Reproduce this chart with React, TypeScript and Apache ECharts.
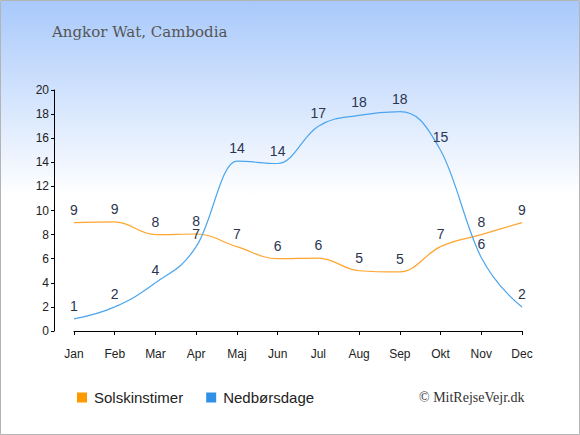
import React, { useEffect, useRef } from "react";
import * as echarts from "echarts";

const months = ["Jan", "Feb", "Mar", "Apr", "Maj", "Jun", "Jul", "Aug", "Sep", "Okt", "Nov", "Dec"];
const sunshine = [9, 9.05, 8, 8.05, 7, 6, 6.05, 5, 4.9, 7, 8, 9];
const rainDays = [1, 2, 4, 7, 14.1, 13.9, 17, 17.9, 18.2, 15, 6.1, 2];
const yTicksMax = 20;
const titleText = "Angkor Wat, Cambodia";
const creditText = "© MitRejseVejr.dk";

const SUN_COLOR = "#ff9900";
const SUN_LINE = "#ffa52e";
const RAIN_COLOR = "#2f90e6";
const RAIN_LINE = "#4ba5ee";

type P = number[];

function controlPoints(pts: P[], k: number) {
  const [x, y] = pts[k];
  if (k === 0 || k === pts.length - 1) return { lx: x, ly: y, rx: x, ry: y };
  const smoothing = 1.5;
  const denom = smoothing + 1;
  const [px, py] = pts[k - 1];
  const [nx, ny] = pts[k + 1];
  const lx = (smoothing * x + px) / denom;
  let ly = (smoothing * y + py) / denom;
  const rx = (smoothing * x + nx) / denom;
  let ry = (smoothing * y + ny) / denom;
  let corr = 0;
  if (rx !== lx) corr = ((ry - ly) * (rx - x)) / (rx - lx) + y - ry;
  ly += corr;
  ry += corr;
  if (ly > py && ly > y) {
    ly = Math.max(py, y);
    ry = 2 * y - ly;
  } else if (ly < py && ly < y) {
    ly = Math.min(py, y);
    ry = 2 * y - ly;
  }
  if (ry > ny && ry > y) {
    ry = Math.max(ny, y);
    ly = 2 * y - ry;
  } else if (ry < ny && ry < y) {
    ry = Math.min(ny, y);
    ly = 2 * y - ry;
  }
  return { lx, ly, rx, ry };
}

function splineSeries(name: string, values: number[], color: string) {
  return {
    name: name + " spline",
    type: "custom",
    data: values.map((v, i) => [i, v]),
    encode: { x: 0, y: 1 },
    silent: true,
    renderItem: (params: any, api: any) => {
      const i = params.dataIndex;
      if (i >= values.length - 1) return null;
      const pts = values.map((v, k) => api.coord([k, v]));
      const a = controlPoints(pts, i);
      const b = controlPoints(pts, i + 1);
      return {
        type: "bezierCurve",
        shape: {
          x1: pts[i][0],
          y1: pts[i][1],
          cpx1: a.rx,
          cpy1: a.ry,
          cpx2: b.lx,
          cpy2: b.ly,
          x2: pts[i + 1][0],
          y2: pts[i + 1][1],
        },
        style: { stroke: color, lineWidth: 1.2, fill: "none" },
      };
    },
  };
}

export default function App() {
  const ref = useRef<HTMLDivElement>(null);
  useEffect(() => {
    if (!ref.current) return;
    const chart = echarts.init(ref.current, undefined, { renderer: "svg" });
    const labelStyle = {
      show: true,
      position: "top" as const,
      distance: 6,
      color: "#2b3550",
      fontSize: 14,
      fontFamily: "Liberation Sans, Arial, sans-serif",
      formatter: (p: any) => String(Math.round(p.value)),
    };
    chart.setOption({
      animation: false,
      graphic: [
        {
          type: "rect",
          z: -10,
          silent: true,
          shape: { x: 0.5, y: 0.5, width: 579, height: 434 },
          style: {
            fill: new echarts.graphic.LinearGradient(0, 0, 0, 1, [
              { offset: 0, color: "#a8c9fb" },
              { offset: 0.45, color: "#ffffff" },
              { offset: 1, color: "#ffffff" },
            ]),
            stroke: "#b4b4b4",
            lineWidth: 1,
          },
        },
        {
          type: "text",
          left: 52,
          top: 24,
          style: {
            text: titleText,
            fill: "#555555",
            font: "15px 'DejaVu Serif', Georgia, serif",
          },
        },
        {
          type: "text",
          left: 419,
          top: 390,
          style: {
            text: creditText,
            fill: "#333333",
            font: "14px 'Liberation Serif', 'Times New Roman', serif",
          },
        },
      ],
      legend: {
        left: 77,
        top: 390,
        padding: 0,
        icon: "rect",
        itemWidth: 10,
        itemHeight: 10,
        itemGap: 23,
        textStyle: { fontSize: 15, color: "#222", fontFamily: "Liberation Sans, Arial, sans-serif", padding: [0, 0, 0, 2] },
        data: [
          { name: "Solskinstimer", itemStyle: { color: SUN_COLOR } },
          { name: "Nedbørsdage", itemStyle: { color: RAIN_COLOR } },
        ],
      },
      grid: { left: 74, right: 58, top: 90, bottom: 104, containLabel: false },
      xAxis: {
        type: "category",
        data: months,
        boundaryGap: false,
        offset: 10,
        axisLine: { lineStyle: { color: "#000", width: 1 } },
        axisTick: { show: true, length: 4, lineStyle: { color: "#000" } },
        axisLabel: { color: "#222", fontSize: 12, fontFamily: "Liberation Sans, Arial, sans-serif", margin: 7 },
      },
      yAxis: {
        type: "value",
        min: 0,
        max: yTicksMax,
        interval: 2,
        offset: 20,
        axisLine: { show: true, lineStyle: { color: "#000", width: 1 } },
        axisTick: { show: true, length: 3, lineStyle: { color: "#000" } },
        splitLine: { show: false },
        axisLabel: { color: "#222", fontSize: 12, fontFamily: "Liberation Sans, Arial, sans-serif", margin: 5 },
      },
      series: [
        splineSeries("Solskinstimer", sunshine, SUN_LINE),
        splineSeries("Nedbørsdage", rainDays, RAIN_LINE),
        {
          name: "Solskinstimer",
          type: "line",
          data: sunshine,
          symbol: "circle",
          symbolSize: 0,
          showSymbol: true,
          itemStyle: { color: SUN_COLOR },
          lineStyle: { opacity: 0 },
          label: labelStyle,
        },
        {
          name: "Nedbørsdage",
          type: "line",
          data: rainDays,
          symbol: "circle",
          symbolSize: 0,
          showSymbol: true,
          itemStyle: { color: RAIN_COLOR },
          lineStyle: { opacity: 0 },
          label: labelStyle,
        },
      ],
    });
    return () => chart.dispose();
  }, []);
  return <div ref={ref} style={{ position: "absolute", left: 0, top: 0, width: 580, height: 435 }} />;
}
